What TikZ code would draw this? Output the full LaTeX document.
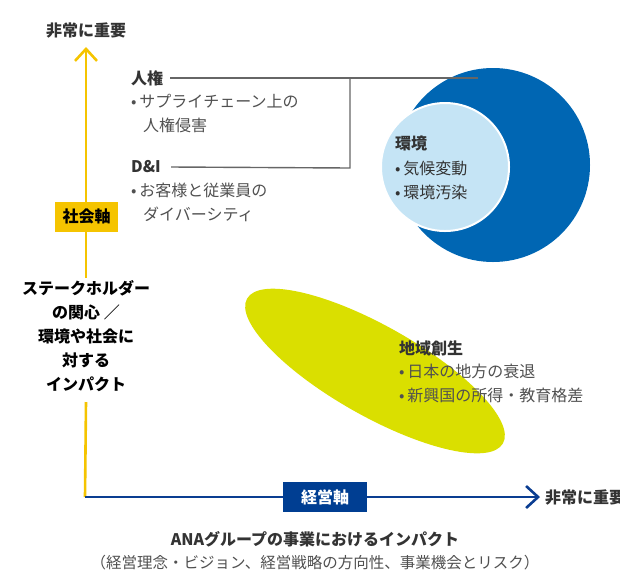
\documentclass[tikz,border=0pt]{standalone}
\usepackage{fontspec}
\setmainfont{Noto Sans CJK JP}
\usetikzlibrary{arrows.meta}
\definecolor{axyellow}{HTML}{F5C400}
\definecolor{axblue}{HTML}{0A3D91}
\definecolor{boxblue}{HTML}{003E92}
\definecolor{bigblue}{HTML}{0066B3}
\definecolor{lightblue}{HTML}{C5E4F5}
\definecolor{lime}{HTML}{DADF00}
\definecolor{linegray}{HTML}{666666}
\definecolor{txtdark}{HTML}{333333}
\definecolor{txtbody}{HTML}{505050}
\tikzset{
  head/.style={inner sep=0pt, anchor=west, text=txtdark, font=\fontsize{16}{19}\selectfont\bfseries},
  item/.style={inner sep=0pt, anchor=west, text=txtbody, font=\fontsize{16}{19}\selectfont},
  yaxis/.style={draw=axyellow, line width=2.6pt},
  xaxis/.style={draw=axblue, line width=2.6pt},
  chev/.style={-{Straight Barb[length=12pt,width=22pt,line width=2.6pt]}},
  conn/.style={draw=linegray, line width=1.4pt},
  axisbox/.style={minimum width=64pt, minimum height=30pt, inner sep=0pt, font=\fontsize{16}{19}\selectfont\bfseries},
}
\begin{document}
\begin{tikzpicture}[x=1pt,y=-1pt]
\useasboundingbox (0,0) rectangle (620,574);
% shapes
\fill[lime, rotate around={-29.5:(375,371)}] (375,371) ellipse [x radius=147, y radius=45];
\fill[bigblue] (493,165) circle [radius=97];
\filldraw[fill=lightblue, draw=white, line width=2pt] (445,167) circle [radius=64];
% coordinates
\coordinate (O) at (85,497);
\coordinate (Ytop) at (86,47);
\coordinate (Xtip) at (540,497);
\coordinate (gapTop) at (86,278);
\coordinate (gapBot) at (86,402);
\coordinate (jn) at (350,78);
\coordinate (jd) at (350,168);
\coordinate (lineEnd) at (478,78);
% axes
\draw[yaxis] (O) -- (gapBot);
\draw[yaxis, chev] (gapTop) -- (Ytop);
\draw[xaxis, chev] (O) -- (Xtip);
% axis labels
\node[axisbox, fill=axyellow, text=black, minimum width=63pt] (shakai) at (86.5,216.5) {社会軸};
\node[axisbox, fill=boxblue, text=white, minimum width=84pt] (keiei) at (325,497) {経営軸};
\node[inner sep=0pt, anchor=south, text=txtdark, font=\fontsize{16}{19}\selectfont\bfseries] (ytext) at (86,38) {非常に重要};
\node[head, anchor=west] (xtext) at (545,497) {非常に重要};
\node[inner sep=0pt, align=center, text=black, font=\fontsize{16}{24}\selectfont\bfseries] (stake) at (86,336) {ステークホルダー\\の関心 ／\\環境や社会に\\対する\\インパクト};
% left items
\node[head] (jinken) at (131,78) {人権};
\node[item] (j1) at (131,101) {•\,サプライチェーン上の};
\node[item] (j2) at (143,125) {人権侵害};
\node[head] (di) at (131,167) {D\&I};
\node[item] (d1) at (131,190) {•\,お客様と従業員の};
\node[item] (d2) at (143,214) {ダイバーシティ};
% connectors
\draw[conn] (jinken.east) ++(7,0) coordinate (js) -- (lineEnd);
\draw[conn] (di.east) ++(10,0) coordinate (ds) -- (jd) -- (jn);
% environment
\node[head] (kankyo) at (395,143) {環境};
\node[item, text=txtdark] (k1) at (395,168) {•\,気候変動};
\node[item, text=txtdark] (k2) at (395,192) {•\,環境汚染};
% regional
\node[head] (chiiki) at (399,348) {地域創生};
\node[item] (c1) at (399,371) {•\,日本の地方の衰退};
\node[item] (c2) at (399,395) {•\,新興国の所得・教育格差};
% bottom
\node[inner sep=0pt, text=txtdark, font=\fontsize{16}{19}\selectfont\bfseries] (title) at (315,539) {ANAグループの事業におけるインパクト};
\node[inner sep=0pt, text=txtbody, font=\fontsize{15.5}{19}\selectfont] (sub) at (315,563) {（経営理念・ビジョン、経営戦略の方向性、事業機会とリスク）};
\end{tikzpicture}
\end{document}
